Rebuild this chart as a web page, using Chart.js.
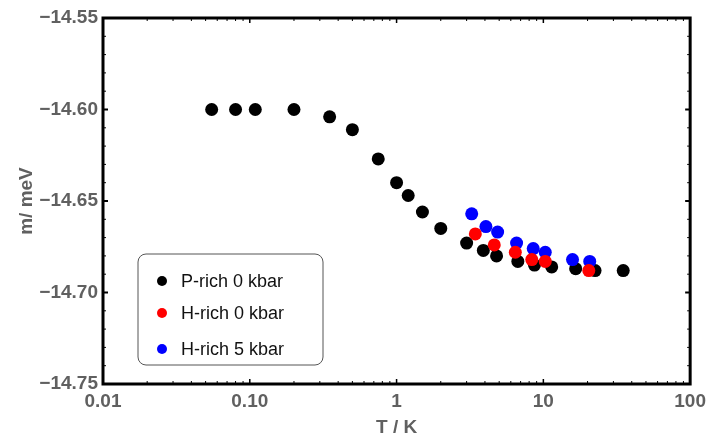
<!DOCTYPE html>
<html>
<head>
<meta charset="utf-8">
<script src="https://cdn.jsdelivr.net/npm/chart.js@4.4.1/dist/chart.umd.min.js"></script>
<style>
  html, body { margin: 0; padding: 0; background: #fff; }
  #wrap { width: 712px; height: 437px; }
</style>
</head>
<body>
<div id="wrap"><canvas id="magChart"></canvas></div>
<script>
// values: T in K, m in meV
const pRichT = [0.055, 0.08, 0.109, 0.2, 0.35, 0.5, 0.75, 1.0, 1.2, 1.5, 2.0, 3.0, 3.9, 4.8, 6.7, 8.7, 11.4, 16.6, 22.5, 35]
const pRichM = [-14.600, -14.600, -14.600, -14.600, -14.604, -14.611, -14.627, -14.640, -14.647, -14.656,
  -14.665, -14.673, -14.677, -14.680, -14.683, -14.685, -14.686, -14.687, -14.688, -14.688]
const hRich0T = [3.44, 4.63, 6.44, 8.34, 10.3, 20.4]
const hRich0M = [-14.668, -14.674, -14.678, -14.682, -14.683, -14.688]
const hRich5T = [3.25, 4.06, 4.88, 6.57, 8.53, 10.3, 15.8, 20.7]
const hRich5M = [-14.657, -14.664, -14.667, -14.673, -14.676, -14.678, -14.682, -14.683]

const seriesLabels = ['P-rich 0 kbar', 'H-rich 0 kbar', 'H-rich 5 kbar']
const seriesColors = ['#000000', '#ff0000', '#0000ff']

const xTickValues = [0.01, 0.1, 1, 10, 100]
const xTickLabels = ['0.01', '0.10', '1', '10', '100']
const yTickValues = [-14.75, -14.70, -14.65, -14.60, -14.55]
const yTickLabels = ['\u221214.75', '\u221214.70', '\u221214.65', '\u221214.60', '\u221214.55']

const toPoints = (xs, ys) => xs.map((x, i) => ({x: x, y: ys[i]}))

const tickFont = {family: 'Liberation Sans, Arial, sans-serif', size: 19, weight: 'bold'}
const grey = '#606060'

// frame + inward ticks on all four sides (Mathematica style)
const framePlugin = {
  id: 'frame',
  afterDraw(chart) {
    const {ctx, chartArea: a, scales} = chart
    const xs = scales.x, ys = scales.y
    ctx.save()
    ctx.strokeStyle = '#000'
    // x ticks: majors at decades, minors at 2..9
    for (let d = -2; d < 2; d++) {
      for (let k = 1; k <= 9; k++) {
        const v = k * Math.pow(10, d)
        const px = xs.getPixelForValue(v)
        const len = k === 1 ? 5 : 3
        ctx.lineWidth = k === 1 ? 1.5 : 1
        ctx.beginPath()
        ctx.moveTo(px, a.bottom); ctx.lineTo(px, a.bottom - len)
        ctx.moveTo(px, a.top); ctx.lineTo(px, a.top + len)
        ctx.stroke()
      }
    }
    // y ticks every 0.01, majors every 0.05
    for (let i = 0; i <= 20; i++) {
      const v = -14.75 + i * 0.01
      const py = ys.getPixelForValue(v)
      const major = i % 5 === 0
      const len = major ? 5 : 3
      ctx.lineWidth = major ? 2 : 1
      ctx.beginPath()
      ctx.moveTo(a.left, py); ctx.lineTo(a.left + len, py)
      ctx.moveTo(a.right, py); ctx.lineTo(a.right - len, py)
      ctx.stroke()
    }
    ctx.lineWidth = 3
    ctx.strokeRect(a.left, a.top, a.right - a.left, a.bottom - a.top)

    // legend box inside the plot
    const bx = 138, by = 254, bw = 185, bh = 111, r = 8
    ctx.lineWidth = 1
    ctx.strokeStyle = '#555'
    ctx.fillStyle = '#fff'
    ctx.beginPath()
    ctx.roundRect(bx, by, bw, bh, r)
    ctx.fill()
    ctx.stroke()
    ctx.font = '18px "Liberation Sans", Arial, sans-serif'
    ctx.textBaseline = 'middle'
    const rowsY = [281, 313, 349]
    chart.data.datasets.forEach((ds, i) => {
      ctx.fillStyle = ds.backgroundColor
      ctx.beginPath()
      ctx.arc(162, rowsY[i], 5, 0, Math.PI * 2)
      ctx.fill()
      ctx.fillStyle = '#111'
      ctx.fillText(ds.label, 181, rowsY[i] + 1)
    })
    ctx.restore()
  }
}

new Chart(document.getElementById('magChart'), {
  type: 'scatter',
  data: {
    datasets: [
      {label: seriesLabels[0], data: toPoints(pRichT, pRichM), backgroundColor: seriesColors[0], borderColor: seriesColors[0], order: 3},
      {label: seriesLabels[1], data: toPoints(hRich0T, hRich0M), backgroundColor: seriesColors[1], borderColor: seriesColors[1], order: 1},
      {label: seriesLabels[2], data: toPoints(hRich5T, hRich5M), backgroundColor: seriesColors[2], borderColor: seriesColors[2], order: 2}
    ]
  },
  options: {
    responsive: true,
    maintainAspectRatio: false,
    animation: false,
    layout: {padding: {top: 18, right: 19, left: 0, bottom: 0}},
    elements: {point: {radius: 6.5, borderWidth: 0, hoverRadius: 6.5}},
    plugins: {legend: {display: false}, tooltip: {enabled: false}},
    scales: {
      x: {
        type: 'logarithmic', min: 0.01, max: 100,
        afterBuildTicks: (s) => { s.ticks = xTickValues.map(v => ({value: v, major: true})) },
        afterFit: (s) => { s.height = 53 },
        grid: {display: false, drawTicks: false},
        border: {display: false},
        ticks: {font: tickFont, color: grey, padding: 6, maxRotation: 0, autoSkip: false,
          callback: (v, i) => xTickLabels[i]},
        title: {display: true, text: 'T / K', color: grey, padding: {top: 0, bottom: 0},
          font: {family: 'Liberation Sans, Arial, sans-serif', size: 19, weight: 'bold', lineHeight: 1}}
      },
      y: {
        min: -14.75, max: -14.55,
        afterBuildTicks: (s) => { s.ticks = yTickValues.map(v => ({value: v})) },
        afterFit: (s) => { s.width = 103 },
        grid: {display: false, drawTicks: false},
        border: {display: false},
        ticks: {font: tickFont, color: grey, padding: 5, autoSkip: false,
          callback: (v, i) => yTickLabels[i]},
        title: {display: true, text: 'm/ meV', color: grey, padding: {top: 17, bottom: 0},
          font: {family: 'Liberation Sans, Arial, sans-serif', size: 19, weight: 'bold', lineHeight: 1}}
      }
    }
  },
  plugins: [framePlugin]
})
</script>
</body>
</html>
